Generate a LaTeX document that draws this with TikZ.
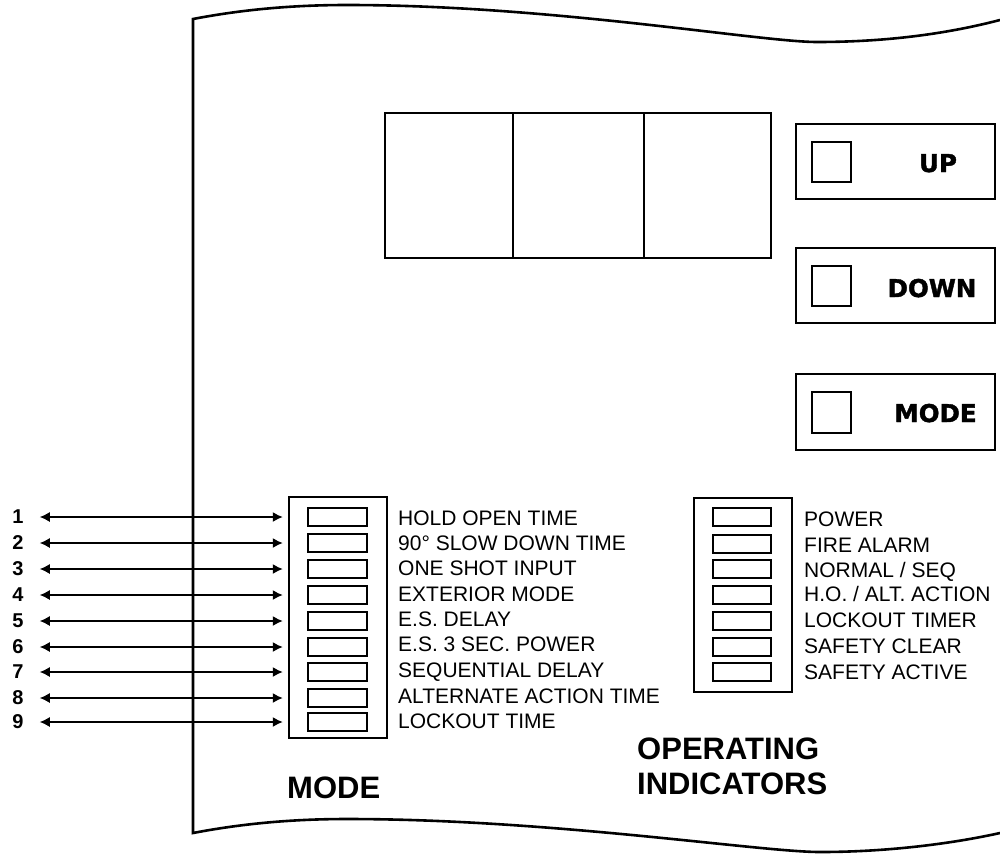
\documentclass[tikz,border=0pt]{standalone}
\usepackage{fontspec}
\setmainfont{Liberation Sans}
\newfontfamily\heavyfont{DejaVu Sans}[BoldFeatures={FakeBold=1.6}]
\usetikzlibrary{arrows.meta}
\begin{document}
\begin{tikzpicture}[x=1pt,y=-1pt,
  outline/.style={line width=2.6pt},
  boxn/.style={draw, line width=2.5pt, inner sep=0pt, rectangle},
  led/.style={draw, line width=2.2pt, inner sep=0pt, rectangle, minimum width=59pt, minimum height=18pt},
  sq/.style={draw, line width=2.2pt, inner sep=0pt, rectangle, minimum width=39pt, minimum height=40pt},
  lbl/.style={font=\fontsize{21}{21}\selectfont, anchor=base west, inner sep=0pt},
  numlbl/.style={font=\bfseries\fontsize{20}{20}\selectfont, inner sep=0pt},
  biarrow/.style={line width=1.3pt, {Latex[length=10pt,width=10pt]}-{Latex[length=10pt,width=10pt]}},
  btnlbl/.style={font=\heavyfont\bfseries\fontsize{24.5}{24.5}\selectfont, anchor=base, inner sep=0pt},
  titlelbl/.style={font=\bfseries\fontsize{31}{31}\selectfont, anchor=base west, inner sep=0pt}
]
\useasboundingbox (0,0) rectangle (1000,854);

% panel outline
\draw[outline] (1000,20) .. controls (950,33) and (890,42) .. (817,42)
  .. controls (760,42) and (550,5) .. (347,5)
  .. controls (290,5) and (240,10) .. (193,19)
  -- (193,833)
  .. controls (240,824) and (290,819) .. (347,819)
  .. controls (550,819) and (760,852) .. (820,852)
  .. controls (890,852) and (955,843) .. (1000,833);

% display
\node[boxn, minimum width=128pt, minimum height=145pt] (d1) at (449,185.5) {};
\node[boxn, minimum width=131pt, minimum height=145pt] (d2) at (578.5,185.5) {};
\node[boxn, minimum width=127pt, minimum height=145pt] (d3) at (707.5,185.5) {};

% buttons
\node[boxn, minimum width=199pt, minimum height=75pt] (b1) at (895.5,161.5) {};
\node[boxn, minimum width=199pt, minimum height=75pt] (b2) at (895.5,285.5) {};
\node[boxn, minimum width=199pt, minimum height=76pt] (b3) at (895.5,412) {};
\node[sq] (s1) at (831.5,162) {};
\node[sq] (s2) at (831.5,286) {};
\node[sq, minimum height=41pt] (s3) at (831.5,412.5) {};
\node[btnlbl] (t1) at (938,172) {UP};
\node[btnlbl] (t2) at (932,297) {DOWN};
\node[btnlbl] (t3) at (935.5,422) {MODE};

% mode switches
\node[boxn, minimum width=98pt, minimum height=241pt] (modebox) at (338,617.5) {};
\foreach \i/\y/\b/\t in {1/517/525/{HOLD OPEN TIME},
                         2/543/550/{90° SLOW DOWN TIME},
                         3/569/575/{ONE SHOT INPUT},
                         4/595/601/{EXTERIOR MODE},
                         5/621/626/{E.S. DELAY},
                         6/647/651/{E.S. 3 SEC. POWER},
                         7/672/677/{SEQUENTIAL DELAY},
                         8/698/703/{ALTERNATE ACTION TIME},
                         9/722/728/{LOCKOUT TIME}} {
  \node[led] (ml\i) at (337.5,\y) {};
  \node[lbl] (mt\i) at (398,\b) {\t};
  \node[numlbl] (n\i) at (18,\y) {\i};
  \draw[biarrow, shorten <=16pt, shorten >=5pt] (n\i.east) -- (n\i.east -| modebox.west);
}

% operating indicators
\node[boxn, minimum width=98pt, minimum height=194pt] (opbox) at (743,595) {};
\foreach \i/\y/\b/\t in {1/517/526/{POWER},
                         2/544/552/{FIRE ALARM},
                         3/569/577/{NORMAL / SEQ},
                         4/595/601/{H.O. / ALT. ACTION},
                         5/621/627/{LOCKOUT TIMER},
                         6/647/653/{SAFETY CLEAR},
                         7/672/679/{SAFETY ACTIVE}} {
  \node[led, minimum width=58pt, minimum height=17.5pt] (ol\i) at (742,\y) {};
  \node[lbl] (ot\i) at (804,\b) {\t};
}

% titles
\node[titlelbl] (modetitle) at (287,798) {MODE};
\node[titlelbl] (optitle1) at (637,759) {OPERATING};
\node[titlelbl] (optitle2) at (637,794) {INDICATORS};
\end{tikzpicture}
\end{document}
